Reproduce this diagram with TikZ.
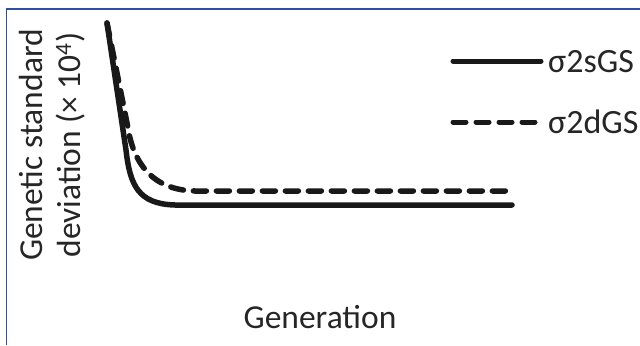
\documentclass[tikz,border=0pt]{standalone}
\usepackage{fontspec}
\setmainfont{Carlito}
\begin{document}
\begin{tikzpicture}[x=1bp, y=-1bp,
  lbl/.style = {inner sep=0pt, text=black!85, font=\fontsize{33.5bp}{40bp}\selectfont},
  curve/.style = {line width=5.5bp, line cap=round, line join=round, color=black!90},
  dcurve/.style = {curve, dash pattern=on 13bp off 10bp}]
\useasboundingbox (0,0) rectangle (640,345);
\draw[color={rgb,255:red,46;green,79;blue,160}, line width=1.5bp] (640,9) -- (6.5,9) -- (6.5,345);

\node[lbl, rotate=90, anchor=base] (ylabA) at (42,145) {Genetic standard};
\node[lbl, rotate=90, anchor=base] (ylabB) at (80,145) {deviation (× 10\textsuperscript{4})};
\node[lbl, anchor=base] (xlab) at (320,328) {Generation};

\coordinate (s0) at (107,23);
\coordinate (s1) at (126,150);
\coordinate (s2) at (175,205);
\coordinate (s3) at (512,205);
\coordinate (d1) at (128,128);
\coordinate (d2) at (195,191);
\coordinate (d3) at (512,191);
\draw[curve] (s0) -- (s1) .. controls (130,185) and (138,204) .. (s2) -- (s3);
\draw[dcurve] (s0) -- (d1) .. controls (133,160) and (150,190) .. (d2) -- (d3);

\node[lbl, anchor=base west, font=\fontsize{34bp}{40bp}\selectfont] (legS) at (548,72) {σ2sGS};
\node[lbl, anchor=base west, font=\fontsize{34bp}{40bp}\selectfont] (legD) at (548,133) {σ2dGS};
\coordinate (ls) at (453,61);
\coordinate (le) at (541,61);
\coordinate (ld) at (453,122);
\coordinate (lf) at (541,122);
\draw[curve, line width=5bp] (ls) -- (le);
\draw[dcurve, line width=5bp] (ld) -- (lf);
\end{tikzpicture}
\end{document}
